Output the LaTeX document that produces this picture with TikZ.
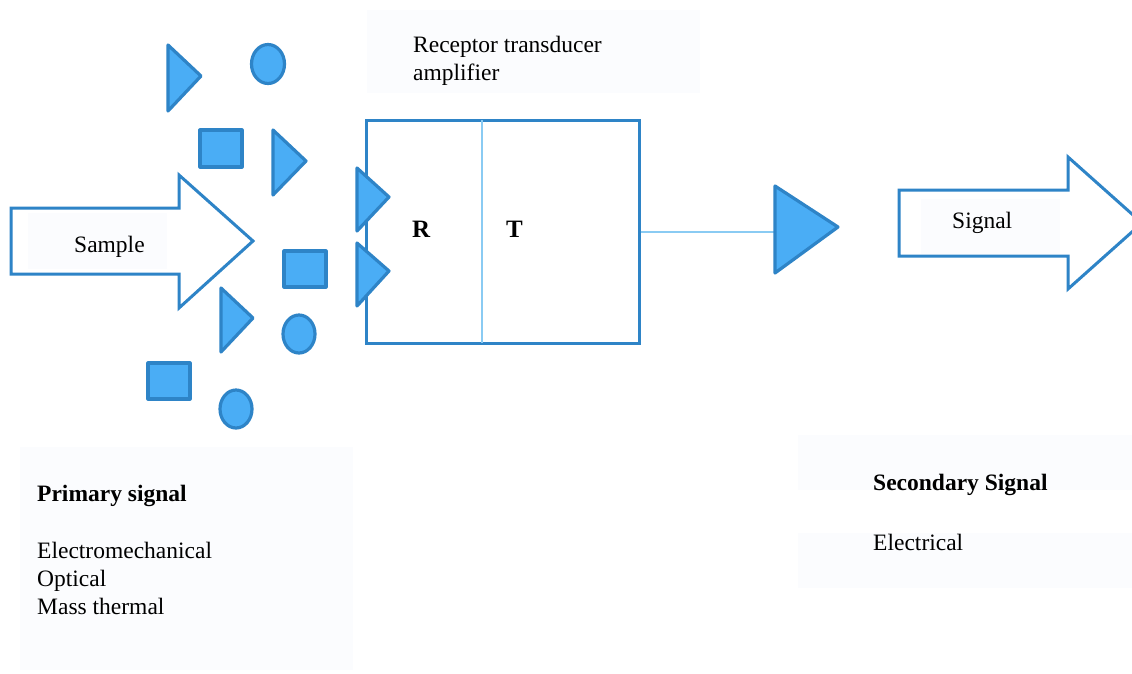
\documentclass[tikz,border=0pt]{standalone}
\usepackage{fontspec}
\setmainfont{Liberation Serif}
\begin{document}
\begin{tikzpicture}[x=1pt,y=-1pt,
  shapefill/.style={draw=blueline,fill=bluefill,line width=3.2pt,line join=round},
  bigarrow/.style={draw=blueline,fill=white,line width=3pt,line join=miter},
  thinline/.style={draw=lightline,line width=1.6pt},
  panel/.style={fill=panelbg,draw=none},
  txt/.style={inner sep=0pt,font=\fontsize{23.5}{28}\selectfont},
  btxt/.style={inner sep=0pt,font=\fontsize{23.5}{28}\selectfont\bfseries}]
\definecolor{bluefill}{RGB}{74,173,245}
\definecolor{blueline}{RGB}{46,132,199}
\definecolor{lightline}{RGB}{138,203,243}
\definecolor{panelbg}{RGB}{251,252,254}

\useasboundingbox (0,0) rectangle (1132,673);
\clip (0,0) rectangle (1132,673);
\fill[white] (0,0) rectangle (1132,673);

% caption panels
\fill[panel] (367,10) rectangle (700,93);
\fill[panel] (20,447) rectangle (353,670);
\fill[panel] (798,435) rectangle (1132,490);
\fill[panel] (798,533) rectangle (1132,588);

% sample arrow
\draw[bigarrow] (11,208) -- (179,208) -- (179,175) -- (253,241) -- (179,308) -- (179,274) -- (11,274) -- cycle;
\fill[panel] (28,213) rectangle (167,269);
\node[txt,anchor=base west] (sample) at (74,252) {Sample};

% scattered analyte particles
\draw[shapefill] (168,45) -- (201,76) -- (168,111) -- cycle;
\draw[shapefill] (268,64) ellipse [x radius=16.5, y radius=19.5];
\draw[shapefill] (200,130) rectangle (242,167);
\draw[shapefill] (273,130) -- (306,161) -- (273,195) -- cycle;
\draw[shapefill] (284,251) rectangle (326,287);
\draw[shapefill] (221,288) -- (253,318) -- (221,352) -- cycle;
\draw[shapefill] (299,334) ellipse [x radius=16, y radius=19];
\draw[shapefill] (148,363) rectangle (190,399);
\draw[shapefill] (236,409) ellipse [x radius=16, y radius=19];

% receptor / transducer block
\node[draw=blueline,line width=3pt,minimum width=273pt,minimum height=223pt,inner sep=0pt]
  (rt) at (502.5,231.5) {};
\draw[thinline] (482,120) -- (482,343);
\node[btxt,anchor=base west,font=\fontsize{25}{28}\selectfont\bfseries] (rlab) at (412,237) {R};
\node[btxt,anchor=base west,font=\fontsize{25}{28}\selectfont\bfseries] (tlab) at (506,237) {T};

% particles bound at the receptor face
\draw[shapefill] (357,168) -- (389,197) -- (357,231) -- cycle;
\draw[shapefill] (357,243) -- (389,271) -- (357,306) -- cycle;

\node[txt,anchor=base west,align=left] (rta) at (413,52) {Receptor transducer};
\node[txt,anchor=base west] (rtb) at (413,80) {amplifier};

% amplifier
\coordinate (ampin) at (775,232);
\draw[thinline] (rt.east |- ampin) -- (ampin);
\draw[shapefill] (775,186) -- (838,227) -- (775,273) -- cycle;

% output signal arrow
\draw[bigarrow] (899,190) -- (1068,190) -- (1068,157) -- (1142,223) -- (1068,289) -- (1068,256) -- (899,256) -- cycle;
\fill[panel] (921,199) rectangle (1060,254);
\node[txt,anchor=base west] (signal) at (952,228) {Signal};

% caption texts
\node[btxt,anchor=base west] (prim) at (37,501) {Primary signal};
\node[txt,anchor=base west] (p1) at (37,558) {Electromechanical};
\node[txt,anchor=base west] (p2) at (37,586) {Optical};
\node[txt,anchor=base west] (p3) at (37,614) {Mass thermal};

\node[btxt,anchor=base west] (sec) at (873,490) {Secondary Signal};
\node[txt,anchor=base west] (s1) at (873,550) {Electrical};
\end{tikzpicture}
\end{document}
